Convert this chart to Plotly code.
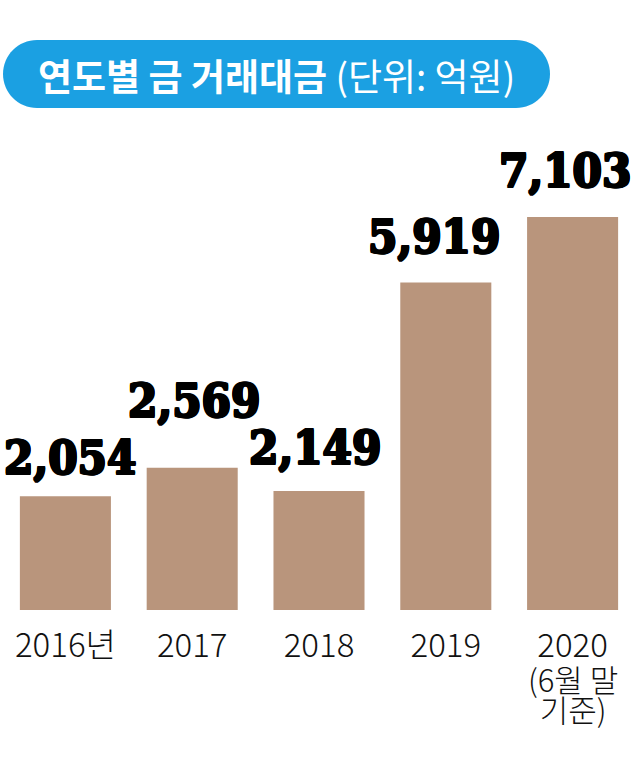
import plotly.graph_objects as go

years = ["2016", "2017", "2018", "2019", "2020"]
tick_labels = ["2016년", "2017", "2018", "2019", "2020"]
note_lines = ["(6월 말", "기준)"]
values = [2054, 2569, 2149, 5919, 7103]
value_labels = ["2,054", "2,569", "2,149", "5,919", "7,103"]
title_bold = "연도별 금 거래대금"
title_unit = "(단위: 억원)"

# label placement tweaks (pixels), matching the hand-placed labels of the original
label_dx = [5, 2, -4, -12, -8]
label_dy = [9, 38, 14, 16, 17]

W_PX, H_PX = 640, 758
L, R, T, B = 2, 4, 140, 148
PW = W_PX - L - R
PH = H_PX - T - B
BASE = H_PX - B

def px2x(px):
    return (px - L) / PW

def py2y(py):
    return (BASE - py) / PH

fig = go.Figure()
fig.add_trace(go.Bar(
    x=years, y=values,
    marker=dict(color="#B9957C", line=dict(width=0)),
    hoverinfo="skip",
))

label_font = dict(family="DejaVu Serif Condensed", size=47, color="#000000", weight="bold",
                  shadow="1px 0 0 #000, -1px 0 0 #000, 0 1px 0 #000, 0 -1px 0 #000, "
                         "1px 1px 0 #000, -1px -1px 0 #000, 1px -1px 0 #000, -1px 1px 0 #000")
for i, (v, lab) in enumerate(zip(values, value_labels)):
    fig.add_annotation(x=i, y=v, text=lab, showarrow=False, xanchor="center", yanchor="bottom",
                       xshift=label_dx[i], yshift=label_dy[i], font=label_font)

# pill
x0, x1, y0, y1 = 3, 550, 40, 108
r = (y1 - y0) / 2
k = 0.5523 * r
path = (
    f"M {px2x(x0 + r)} {py2y(y0)} L {px2x(x1 - r)} {py2y(y0)} "
    f"C {px2x(x1 - r + k)} {py2y(y0)} {px2x(x1)} {py2y(y0 + r - k)} {px2x(x1)} {py2y(y0 + r)} "
    f"C {px2x(x1)} {py2y(y0 + r + k)} {px2x(x1 - r + k)} {py2y(y1)} {px2x(x1 - r)} {py2y(y1)} "
    f"L {px2x(x0 + r)} {py2y(y1)} "
    f"C {px2x(x0 + r - k)} {py2y(y1)} {px2x(x0)} {py2y(y1 - r + k)} {px2x(x0)} {py2y(y0 + r)} "
    f"C {px2x(x0)} {py2y(y0 + r - k)} {px2x(x0 + r - k)} {py2y(y0)} {px2x(x0 + r)} {py2y(y0)} Z"
)
fig.add_shape(type="path", path=path, xref="paper", yref="paper",
              fillcolor="#1BA0E2", line=dict(width=0), layer="above")
fig.add_annotation(
    x=px2x(276), y=py2y(75), xref="paper", yref="paper",
    text=f"<b>{title_bold}</b> {title_unit}", showarrow=False,
    font=dict(family="Noto Sans CJK KR", size=37, color="#FFFFFF"),
    xanchor="center", yanchor="middle",
)

tick_font = dict(family="Noto Sans CJK KR", size=33, color="#111111", weight=300)
note_text = "<br>".join(f"<span style='font-size:31px'>{ln}</span>" for ln in note_lines)
fig.add_annotation(x=len(years) - 1, y=py2y(693), yref="paper", text=note_text,
                   showarrow=False, xanchor="center", yanchor="middle",
                   font=dict(family="Noto Sans CJK KR", size=23, color="#111111", weight=300))

fig.update_layout(
    width=W_PX, height=H_PX,
    margin=dict(l=L, r=R, t=T, b=B, pad=0),
    paper_bgcolor="#FFFFFF", plot_bgcolor="#FFFFFF",
    bargap=0.282, showlegend=False,
    xaxis=dict(
        type="category",
        tickmode="array", tickvals=years, ticktext=tick_labels,
        tickfont=tick_font,
        showline=False, showgrid=False, zeroline=False, ticks="", ticklabelstandoff=13,
        range=[-0.5, 4.5],
    ),
    yaxis=dict(visible=False, range=[0, 8494], showgrid=False, zeroline=False),
)

fig.write_html("out.html")
